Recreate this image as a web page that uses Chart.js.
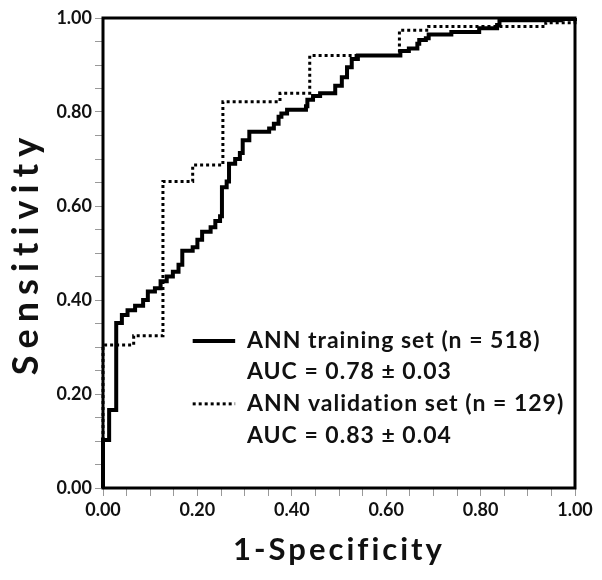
<!DOCTYPE html>
<html>
<head>
<meta charset="utf-8">
<script src="https://cdn.jsdelivr.net/npm/chart.js@4.4.1/dist/chart.umd.min.js"></script>
<style>
html,body{margin:0;padding:0;background:#fff;}
#wrap{position:relative;width:602px;height:580px;}
</style>
</head>
<body>
<div id="wrap"><canvas id="c" width="602" height="580"></canvas></div>
<script>
// ROC data: each point = (1-specificity, sensitivity) at a step
const trainFPR = [0, 0, 0.013, 0.028, 0.040, 0.052, 0.068, 0.085, 0.095, 0.110, 0.122, 0.135, 0.148, 0.160, 0.168, 0.190, 0.200, 0.210, 0.228, 0.238, 0.248, 0.252, 0.262, 0.267, 0.280, 0.290, 0.296, 0.310, 0.352, 0.362, 0.372, 0.378, 0.390, 0.430, 0.433, 0.445, 0.460, 0.492, 0.506, 0.517, 0.527, 0.540, 0.630, 0.648, 0.666, 0.670, 0.684, 0.690, 0.738, 0.797, 0.835, 0.840, 0.970, 1.0];
const trainTPR = [0, 0.102, 0.166, 0.351, 0.368, 0.378, 0.388, 0.400, 0.418, 0.425, 0.440, 0.450, 0.460, 0.475, 0.505, 0.512, 0.528, 0.545, 0.555, 0.568, 0.578, 0.640, 0.652, 0.690, 0.700, 0.713, 0.740, 0.758, 0.765, 0.775, 0.790, 0.797, 0.805, 0.812, 0.826, 0.834, 0.840, 0.856, 0.874, 0.895, 0.913, 0.920, 0.930, 0.935, 0.945, 0.953, 0.957, 0.965, 0.970, 0.978, 0.985, 0.995, 0.998, 1.0];
const valFPR = [0, 0, 0.065, 0.127, 0.190, 0.254, 0.375, 0.438, 0.628, 0.690, 0.938, 1.0];
const valTPR = [0, 0.304, 0.324, 0.652, 0.687, 0.822, 0.840, 0.920, 0.974, 0.982, 0.990, 1.0];
const seriesNames = ['ANN training set (n = 518)', 'ANN validation set (n = 129)'];
const aucTexts = ['AUC = 0.78 \u00b1 0.03', 'AUC = 0.83 \u00b1 0.04'];
const xTitle = '1-Specificity';
const yTitle = 'Sensitivity';
const majorTicks = [0, 0.2, 0.4, 0.6, 0.8, 1.0];

const FONT = 'Lato, "Open Sans", sans-serif';
const toPts = (xs, ys) => xs.map((x, i) => ({x: x, y: ys[i]}));

// spread title letters like the reference
function spacedTitle(spacing) {
  return function (s) {
    if (s._spaced) return;
    const orig = s.drawTitle.bind(s);
    s.drawTitle = function () {
      s.ctx.save();
      s.ctx.letterSpacing = spacing;
      orig();
      s.ctx.restore();
    };
    s._spaced = true;
  };
}

const frame = {
  id: 'frame',
  afterDatasetsDraw(chart) {
    const {ctx, chartArea: a} = chart;
    ctx.save();
    ctx.strokeStyle = '#000';
    ctx.lineWidth = 3;
    ctx.strokeRect(a.left, a.top, a.right - a.left, a.bottom - a.top);
    ctx.restore();
  }
};

const legendBox = {
  id: 'legendBox',
  afterDraw(chart) {
    const {ctx, chartArea: a} = chart;
    const w = a.right - a.left, h = a.bottom - a.top;
    const x0 = a.left + w * 0.19, x1 = a.left + w * 0.28, tx = a.left + w * 0.305;
    const rows = [a.top + h * 0.687, a.top + h * 0.752, a.top + h * 0.821, a.top + h * 0.889];
    ctx.save();
    ctx.fillStyle = '#111';
    ctx.font = 'bold 23px ' + FONT;
    ctx.letterSpacing = '1px';
    ctx.textBaseline = 'middle';
    chart.data.datasets.forEach((ds, i) => {
      const y = rows[i * 2];
      ctx.strokeStyle = '#000';
      ctx.lineWidth = ds.borderWidth;
      ctx.setLineDash(ds.borderDash || []);
      ctx.beginPath(); ctx.moveTo(x0, y); ctx.lineTo(x1, y); ctx.stroke();
      ctx.setLineDash([]);
      ctx.fillText(seriesNames[i], tx, y);
      ctx.fillText(aucTexts[i], tx, rows[i * 2 + 1]);
    });
    ctx.restore();
  }
};

new Chart(document.getElementById('c'), {
  type: 'line',
  data: {
    datasets: [
      {label: seriesNames[0], data: toPts(trainFPR, trainTPR), stepped: 'before', borderColor: '#000', borderWidth: 4, pointRadius: 0, fill: false, clip: 4},
      {label: seriesNames[1], data: toPts(valFPR, valTPR), stepped: 'before', borderColor: '#000', borderWidth: 3, borderDash: [3, 3], pointRadius: 0, fill: false, clip: 4}
    ]
  },
  options: {
    responsive: false,
    animation: false,
    layout: {padding: {top: 18, right: 27, left: 0, bottom: 0}},
    plugins: {legend: {display: false}, tooltip: {enabled: false}},
    scales: {
      x: {
        type: 'linear', min: 0, max: 1,
        afterFit(s) { s.height = 92; },
        afterUpdate: spacedTitle('3px'),
        border: {display: false},
        grid: {drawOnChartArea: false, drawTicks: true, tickLength: 8, color: '#999', lineWidth: 1},
        ticks: {stepSize: 0.05, padding: 3, maxRotation: 0, autoSkip: false, color: '#111',
          font: {family: FONT, size: 18, weight: 'bold'},
          callback: (v) => majorTicks.some(m => Math.abs(m - v) < 1e-6) ? v.toFixed(2) : ''},
        title: {display: true, text: xTitle, color: '#111', font: {family: FONT, size: 31, weight: 'bold'}, padding: {top: 0, bottom: 11}}
      },
      y: {
        type: 'linear', min: 0, max: 1,
        afterFit(s) { s.width = 103; },
        afterUpdate: spacedTitle('7px'),
        border: {display: false},
        grid: {drawOnChartArea: false, drawTicks: true, tickLength: 8, color: '#999', lineWidth: 1},
        ticks: {stepSize: 0.05, padding: 3, autoSkip: false, color: '#111',
          font: {family: FONT, size: 18, weight: 'bold'},
          callback: (v) => majorTicks.some(m => Math.abs(m - v) < 1e-6) ? v.toFixed(2) : ''},
        title: {display: true, text: yTitle, color: '#111', font: {family: FONT, size: 36, weight: 'bold'}, padding: {top: 5, bottom: 0}}
      }
    }
  },
  plugins: [frame, legendBox]
});
</script>
</body>
</html>
